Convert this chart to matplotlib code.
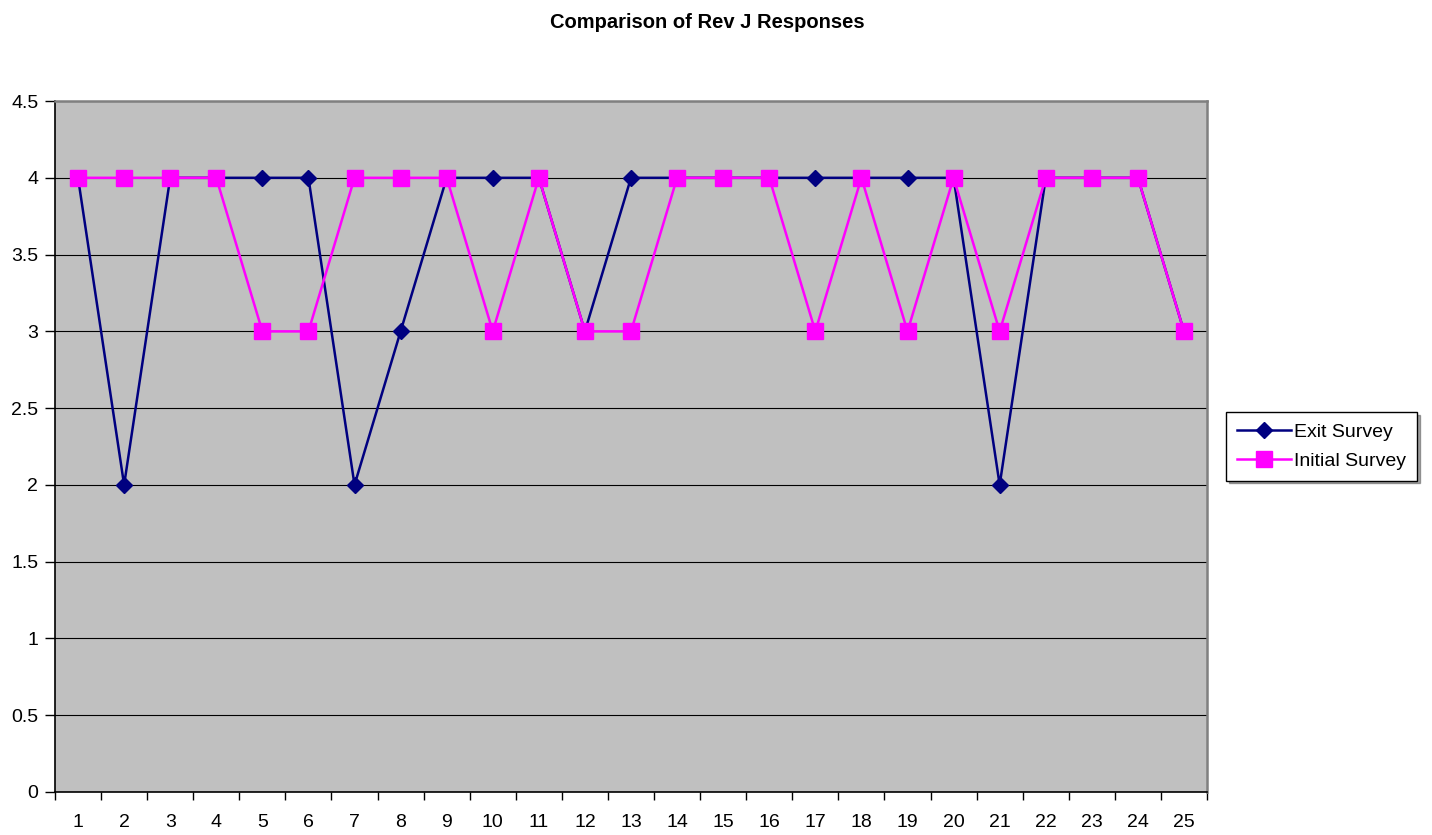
import matplotlib.pyplot as plt
from matplotlib.ticker import FixedLocator, MultipleLocator, FuncFormatter

# survey responses per respondent
respondents = list(range(1, 26))
exit_survey = [4, 2, 4, 4, 4, 4, 2, 3, 4, 4, 4, 3, 4, 4, 4, 4, 4, 4, 4, 4, 2, 4, 4, 4, 3]
initial_survey = [4, 4, 4, 4, 3, 3, 4, 4, 4, 3, 4, 3, 3, 4, 4, 4, 3, 4, 3, 4, 3, 4, 4, 4, 3]

plt.rcParams['font.family'] = ['Liberation Sans', 'DejaVu Sans']

fig = plt.figure(figsize=(14.32, 8.35), dpi=100)
ax = fig.add_axes([0.0384, 0.0515, 0.8045, 0.8275])
ax.set_facecolor('#C0C0C0')

ax.plot(respondents, exit_survey, color='#000080', linewidth=1.8, marker='D',
        markersize=8, markerfacecolor='#000080', markeredgecolor='#000080',
        label='Exit Survey', zorder=3)
ax.plot(respondents, initial_survey, color='#FF00FF', linewidth=1.8, marker='s',
        markersize=11, markerfacecolor='#FF00FF', markeredgecolor='#FF00FF',
        label='Initial Survey', zorder=4)

ax.set_xlim(0.5, 25.5)
ax.set_ylim(0, 4.5)
ax.yaxis.set_major_locator(MultipleLocator(0.5))
ax.yaxis.set_major_formatter(FuncFormatter(lambda v, _: f'{v:g}'))
ax.yaxis.grid(True, color='black', linewidth=0.8)
ax.set_axisbelow(True)

# category labels centred, tick marks on category boundaries
ax.set_xticks(respondents)
ax.set_xticklabels([str(r) for r in respondents])
ax.xaxis.set_minor_locator(FixedLocator([i + 0.5 for i in range(0, 26)]))
ax.tick_params(axis='x', which='major', length=0, pad=16, labelsize=14)
ax.tick_params(axis='x', which='minor', length=6, width=1, direction='out', color='black')
ax.tick_params(axis='y', length=7, width=1, direction='out', labelsize=14, pad=5)

for side in ('left', 'bottom'):
    ax.spines[side].set_color('black')
    ax.spines[side].set_linewidth(1.2)
for side in ('top', 'right'):
    ax.spines[side].set_color('#808080')
    ax.spines[side].set_linewidth(1.8)

fig.text(0.494, 0.973, 'Comparison of Rev J Responses', ha='center', va='center',
         fontsize=14.5, fontweight='bold')

leg = ax.legend(loc='center left', bbox_to_anchor=(1.0165, 0.5), fontsize=14,
                frameon=True, fancybox=False, shadow=True, borderpad=0.55,
                handlelength=2.8, handletextpad=0.15, labelspacing=0.6, borderaxespad=0)
leg.get_frame().set_edgecolor('black')
leg.get_frame().set_linewidth(1.0)

fig.savefig('out.png', dpi=100, facecolor='white')
